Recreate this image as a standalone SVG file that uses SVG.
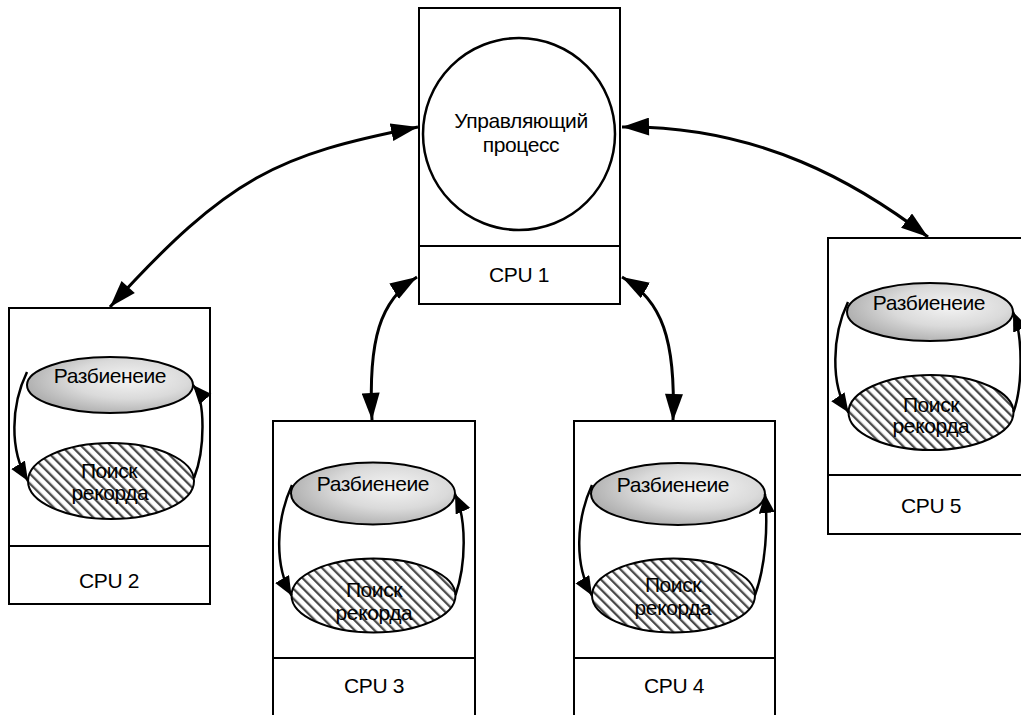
<svg xmlns="http://www.w3.org/2000/svg" width="1021" height="715" viewBox="0 0 1021 715">
<style>
.box{fill:#fff;stroke:#000;stroke-width:2}
.div{stroke:#000;stroke-width:2}
.t{font-family:"Liberation Sans",Arial,sans-serif;font-size:21px;letter-spacing:-0.4px;fill:#000;text-anchor:middle}
.split{fill:url(#grad);stroke:#000;stroke-width:2}
.search{fill:url(#hatch);stroke:#000;stroke-width:2}
.big{fill:none;stroke:#000;stroke-width:3;marker-start:url(#bigS);marker-end:url(#bigE)}
.inner{fill:none;stroke:#000;stroke-width:2.5;marker-end:url(#smallE)}
</style>
<defs>
<radialGradient id="grad" cx="0.62" cy="0.4" r="0.7">
<stop offset="0" stop-color="#f4f4f4"/>
<stop offset="0.5" stop-color="#dadada"/>
<stop offset="1" stop-color="#a6a6a6"/>
</radialGradient>
<pattern id="hatch" patternUnits="userSpaceOnUse" width="7" height="7" patternTransform="rotate(-45)">
<rect width="7" height="7" fill="#fff"/>
<rect x="0" y="0" width="2.3" height="7" fill="#4a4a4a"/>
</pattern>
<marker id="bigE" markerUnits="userSpaceOnUse" markerWidth="30" markerHeight="20" refX="27" refY="9" orient="auto">
<path d="M0,0 L27,9 L0,18 Z" fill="#000"/>
</marker>
<marker id="bigS" markerUnits="userSpaceOnUse" markerWidth="30" markerHeight="20" refX="0" refY="9" orient="auto">
<path d="M27,0 L0,9 L27,18 Z" fill="#000"/>
</marker>
<marker id="smallE" markerUnits="userSpaceOnUse" markerWidth="22" markerHeight="18" refX="19" refY="8" orient="auto">
<path d="M0,0 L19,8 L0,16 Z" fill="#000"/>
</marker>
</defs>

<g id="cpu1">
<rect class="box" x="419" y="8" width="201" height="296"/>
<line class="div" x1="419" y1="246" x2="620" y2="246"/>
<circle cx="519" cy="134" r="96" fill="#fff" stroke="#000" stroke-width="2.5"/>
<text class="t" x="521" y="128">Управляющий</text>
<text class="t" x="521" y="152">процесс</text>
<text class="t" x="519" y="282">CPU 1</text>
</g>

<g id="cpu2">
<rect class="box" x="9" y="308" width="201" height="296"/>
<line class="div" x1="9" y1="546" x2="210" y2="546"/>
<ellipse class="split" cx="110" cy="385" rx="83" ry="28"/>
<ellipse class="search" cx="111" cy="481" rx="83" ry="38"/>
<text class="t" x="110" y="383">Разбиенеие</text>
<text class="t" x="109" y="478">Поиск</text>
<text class="t" x="110" y="500">рекорда</text>
<text class="t" x="109" y="588">CPU 2</text>
</g>

<g id="cpu3">
<rect class="box" x="273" y="421" width="202" height="296"/>
<line class="div" x1="273" y1="658" x2="475" y2="658"/>
<ellipse class="split" cx="373" cy="493.5" rx="82" ry="31"/>
<ellipse class="search" cx="373.5" cy="595.5" rx="82" ry="37"/>
<text class="t" x="373" y="491">Разбиенеие</text>
<text class="t" x="374" y="597">Поиск</text>
<text class="t" x="374" y="620">рекорда</text>
<text class="t" x="374" y="693">CPU 3</text>
</g>

<g id="cpu4">
<rect class="box" x="574" y="421" width="201" height="296"/>
<line class="div" x1="574" y1="658" x2="775" y2="658"/>
<ellipse class="split" cx="678" cy="494" rx="87" ry="31"/>
<ellipse class="search" cx="673.5" cy="595.5" rx="81.5" ry="37"/>
<text class="t" x="673" y="492">Разбиенеие</text>
<text class="t" x="673" y="592">Поиск</text>
<text class="t" x="673" y="615">рекорда</text>
<text class="t" x="674" y="693">CPU 4</text>
</g>

<g id="cpu5">
<rect class="box" x="828" y="238" width="201" height="296"/>
<line class="div" x1="828" y1="475" x2="1029" y2="475"/>
<ellipse class="split" cx="930" cy="312" rx="83" ry="29"/>
<ellipse class="search" cx="931" cy="412.5" rx="82.5" ry="37.5"/>
<text class="t" x="929" y="310">Разбиенеие</text>
<text class="t" x="931" y="412">Поиск</text>
<text class="t" x="931" y="433">рекорда</text>
<text class="t" x="931" y="513">CPU 5</text>
</g>

<g id="connectors">
<path class="big" d="M110,307 C230,175 278,155 418,127"/>
<path class="big" d="M622,127 C760,125 860,185 928,237"/>
<path class="big" d="M372,420 C368,340 380,300 417,277"/>
<path class="big" d="M673,421 C676,340 662,300 622,277"/>

<path class="inner" d="M27,372 C11,405 9,450 28,481"/>
<path class="inner" d="M194,478 C205,450 206,400 193,385"/>

<path class="inner" d="M292,485 C276,520 274,565 291.5,595.5"/>
<path class="inner" d="M455.5,595 C466,565 467,520 455,494"/>

<path class="inner" d="M592,485 C576,520 574,565 592,595.5"/>
<path class="inner" d="M755,595 C766,565 768,525 765,494"/>

<path class="inner" d="M848,302 C832,335 830,385 848.5,412.5"/>
<path class="inner" d="M1013.5,412 C1023,385 1023,335 1013,312"/>
</g>
</svg>
